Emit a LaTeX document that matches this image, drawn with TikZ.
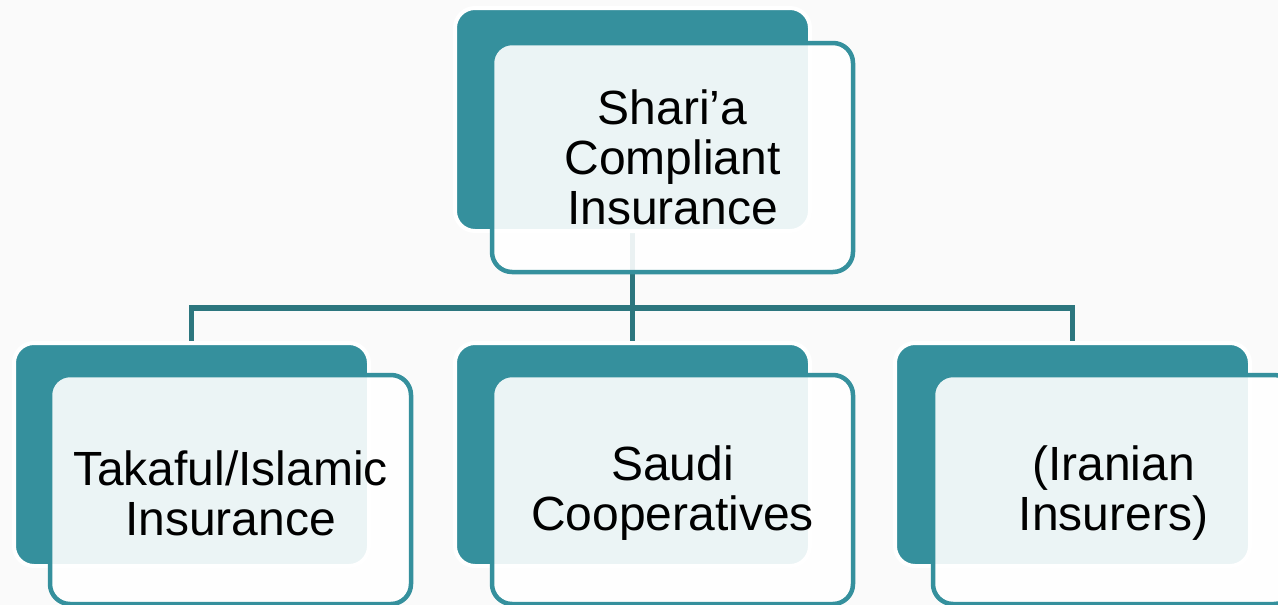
\documentclass[tikz,border=0pt]{standalone}
\usepackage{fontspec}
\setmainfont{Liberation Sans}
\usetikzlibrary{backgrounds}
\definecolor{tealA}{RGB}{53,144,157}
\definecolor{connC}{RGB}{44,118,126}
\definecolor{bgC}{RGB}{250,250,250}
\begin{document}
\begin{tikzpicture}[x=1pt,y=-1pt,
  backbox/.style={fill=tealA,draw=white,line width=4pt,rounded corners=20pt,
    inner sep=0pt,outer sep=0pt,anchor=north west,minimum width=355pt,minimum height=223pt},
  frontbox/.style={fill=white,fill opacity=0.9,draw=tealA,draw opacity=1,line width=4.5pt,
    rounded corners=20pt,inner sep=0pt,outer sep=0pt,anchor=north west,minimum width=361pt,minimum height=229pt},
  lbl/.style={text=black,font=\fontsize{48}{50}\selectfont,align=center,inner sep=0pt},
  connline/.style={draw=connC,line width=5.5pt}]
\useasboundingbox (0,0) rectangle (1278,605);
% top unit
\node[backbox] (b0) at (455,8) {};
\node[frontbox] (f0) at (492,43) {};
\node[lbl] (t0) at ([yshift=0pt]f0.center) {Shari’a\\Compliant\\Insurance};
% bottom units
\node[backbox] (b1) at (14,343) {};
\node[frontbox] (f1) at (50,375) {};
\node[lbl] (t1) at ([yshift=-4pt]f1.center) {Takaful/Islamic\\Insurance};
\node[backbox] (b2) at (455,343) {};
\node[frontbox] (f2) at (492,375) {};
\node[lbl] (t2) at ([yshift=-4pt]f2.center) {Saudi\\Cooperatives};
\node[backbox] (b3) at (895,343) {};
\node[frontbox] (f3) at (933,375) {};
\node[lbl] (t3) at ([yshift=-4pt]f3.center) {(Iranian\\Insurers)};
\begin{scope}[on background layer]
\fill[bgC] (0,0) rectangle (1278,605);
\coordinate (hub) at (b0.south |- 0,308);
\draw[connline] (b0.south) -- (b2.north);
\draw[connline] (b1.north) |- (hub) -| (b3.north);
\end{scope}
\end{tikzpicture}
\end{document}
